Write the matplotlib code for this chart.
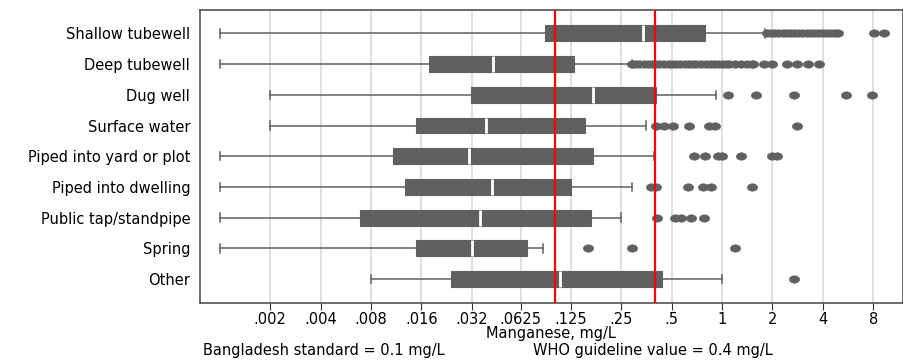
"""
Manganese concentration by drinking-water source (box plots, log2 scale)
"""

import matplotlib
matplotlib.use('Agg')
import matplotlib.pyplot as plt
from matplotlib.path import Path
from matplotlib.transforms import Affine2D

plt.rcParams['font.family'] = ['DejaVu Sans']

# sources, top to bottom
sorgenti = ['Shallow tubewell', 'Deep tubewell', 'Dug well', 'Surface water',
            'Piped into yard or plot', 'Piped into dwelling',
            'Public tap/standpipe', 'Spring', 'Other']

# box statistics in mg/L
whis_lo = [0.001, 0.001, 0.002, 0.002, 0.001, 0.001, 0.001, 0.001, 0.008]
q1 = [0.088, 0.0177, 0.0317, 0.0148, 0.0108, 0.0128, 0.0069, 0.0148, 0.024]
mediana = [0.339, 0.0428, 0.169, 0.0388, 0.0308, 0.0422, 0.0356, 0.0319, 0.107]
q3 = [0.789, 0.131, 0.402, 0.151, 0.170, 0.1255, 0.165, 0.068, 0.437]
whis_hi = [1.81, 0.289, 0.92, 0.351, 0.392, 0.289, 0.25, 0.0857, 1.0]

outlier = [
    [1.85, 1.95, 2.05, 2.15, 2.3, 2.4, 2.55, 2.7, 2.85, 3.0, 3.2, 3.4, 3.6,
     3.8, 4.0, 4.25, 4.5, 4.75, 4.95, 8.13, 9.23],
    [0.29, 0.30, 0.32, 0.34, 0.36, 0.38, 0.40, 0.42, 0.45, 0.48, 0.50, 0.53,
     0.56, 0.60, 0.63, 0.67, 0.70, 0.75, 0.80, 0.85, 0.90, 0.95, 1.0, 1.05,
     1.1, 1.2, 1.3, 1.4, 1.5, 1.54, 1.77, 1.99, 2.44, 2.80, 3.24, 3.81],
    [1.09, 1.60, 2.70, 5.53, 7.87],
    [0.404, 0.447, 0.509, 0.637, 0.831, 0.911, 2.80],
    [0.676, 0.794, 0.940, 1.0, 1.30, 1.99, 2.13],
    [0.376, 0.404, 0.622, 0.769, 0.859, 1.51],
    [0.408, 0.525, 0.568, 0.655, 0.783],
    [0.159, 0.288, 1.20],
    [2.70],
]

tick_val = [0.002, 0.004, 0.008, 0.016, 0.032, 0.0625, 0.125, 0.25, 0.5, 1, 2, 4, 8]
tick_lab = ['.002', '.004', '.008', '.016', '.032', '.0625', '.125', '.25', '.5',
            '1', '2', '4', '8']

bangladesh = 0.1
who = 0.4

grigio = '#606060'
fs = 10.5

# the outliers in the original look like slightly flattened dots
ellisse = Path.unit_circle().transformed(Affine2D().scale(1.4, 1.0))

fig = plt.figure(figsize=(9.04, 3.61), dpi=100)
ax = fig.add_axes([0.2212, 0.1615, 0.7774, 0.8117])

# build the stats the way bxp wants them
stats = []
for i, nome in enumerate(sorgenti):
    stats.append({'label': nome, 'whislo': whis_lo[i], 'q1': q1[i],
                  'med': mediana[i], 'q3': q3[i], 'whishi': whis_hi[i],
                  'fliers': outlier[i]})

ax.bxp(stats, positions=range(1, len(sorgenti) + 1), widths=0.52,
       capwidths=0.28, orientation='horizontal', patch_artist=True,
       boxprops=dict(facecolor=grigio, edgecolor=grigio, linewidth=0.8),
       medianprops=dict(color='white', linewidth=2),
       whiskerprops=dict(color=grigio, linewidth=1.1),
       capprops=dict(color=grigio, linewidth=1.1),
       flierprops=dict(marker=ellisse, markerfacecolor=grigio,
                       markeredgecolor=grigio, markersize=7.6,
                       markeredgewidth=0.3),
       zorder=3)

ax.set_xscale('log', base=2)
ax.set_xlim(0.00076, 12.0)
ax.set_ylim(9.775, 0.225)

# grid lines and standards
for v in tick_val:
    ax.axvline(v, color='#dcdcdc', linewidth=1.3, zorder=1)
ax.axvline(bangladesh, color='red', linewidth=1.6, zorder=4)
ax.axvline(who, color='red', linewidth=1.6, zorder=4)

ax.set_xticks(tick_val)
ax.set_xticklabels(tick_lab)
ax.xaxis.set_minor_locator(matplotlib.ticker.NullLocator())
ax.tick_params(axis='x', direction='out', length=5, width=0.8,
               color='#333333', labelsize=fs, pad=2)
ax.tick_params(axis='y', length=0, labelsize=fs, pad=7)

for s in ax.spines.values():
    s.set_color('#444444')
    s.set_linewidth(1.1)

ax.set_xlabel('Manganese, mg/L', fontsize=fs, labelpad=-1)

fig.text(0.2249, 0.03, 'Bangladesh standard = 0.1 mg/L', fontsize=fs,
         ha='left', va='center')
fig.text(0.59, 0.03, 'WHO guideline value = 0.4 mg/L', fontsize=fs,
         ha='left', va='center')

fig.savefig('out.png', dpi=100)
